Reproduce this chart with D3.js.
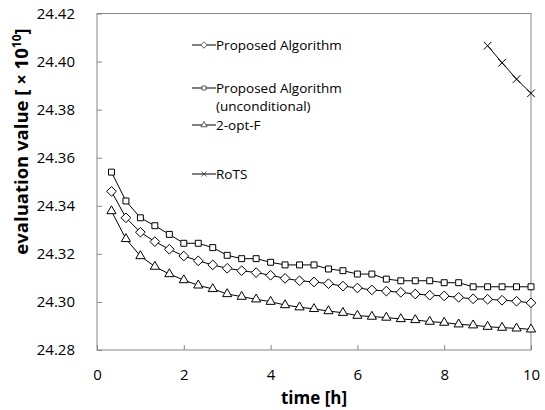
<!DOCTYPE html>
<html>
<head>
<meta charset="utf-8">
<script src="https://cdn.jsdelivr.net/npm/d3@7"></script>
<style>
  body { margin: 0; background: #fff; }
  svg { display: block; font-family: "Open Sans", Lato, sans-serif; }
</style>
</head>
<body>
<div id="chart"></div>
<script>
(function () {
  'use strict';

  /* ── Data (time in hours, values ×10^10) ── */
  var times = [1/3, 2/3, 1, 4/3, 5/3, 2, 7/3, 8/3, 3, 10/3, 11/3, 4, 13/3, 14/3, 5,
               16/3, 17/3, 6, 19/3, 20/3, 7, 22/3, 23/3, 8, 25/3, 26/3, 9, 28/3, 29/3, 10];

  var proposed = [24.3460, 24.3350, 24.3290, 24.3251, 24.3219, 24.3191, 24.3171, 24.3154,
                  24.3140, 24.3130, 24.3122, 24.3111, 24.3098, 24.3088, 24.3083, 24.3076,
                  24.3066, 24.3058, 24.3050, 24.3045, 24.3040, 24.3033, 24.3028, 24.3025,
                  24.3019, 24.3013, 24.3011, 24.3007, 24.3003, 24.2996];

  var unconditional = [24.3540, 24.3420, 24.3350, 24.3317, 24.3281, 24.3244, 24.3244, 24.3226,
                       24.3194, 24.3180, 24.3180, 24.3165, 24.3154, 24.3154, 24.3154, 24.3137,
                       24.3130, 24.3116, 24.3116, 24.3095, 24.3088, 24.3088, 24.3088, 24.3080,
                       24.3080, 24.3063, 24.3063, 24.3063, 24.3063, 24.3063];

  var twoOptF = [24.3378, 24.3262, 24.3191, 24.3147, 24.3116, 24.3091, 24.3069, 24.3054,
                 24.3033, 24.3022, 24.3011, 24.3001, 24.2987, 24.2978, 24.2971, 24.2962,
                 24.2955, 24.2943, 24.2939, 24.2935, 24.2929, 24.2925, 24.2918, 24.2914,
                 24.2907, 24.2903, 24.2897, 24.2893, 24.2890, 24.2886];

  var rotsTimes = [9, 28/3, 29/3, 10];
  var rots = [24.4066, 24.3995, 24.3927, 24.3868];

  var xTicks = [0, 2, 4, 6, 8, 10];
  var yTicks = [24.28, 24.30, 24.32, 24.34, 24.36, 24.38, 24.40, 24.42];

  var seriesNames = ['Proposed Algorithm', 'Proposed Algorithm|(unconditional)', '2-opt-F', 'RoTS'];

  /* ── Layout ── */
  var W = 545, H = 410;
  var left = 97, right = 531, top = 13.5, bottom = 350;
  var AXIS = '#868686';

  var svg = d3.select('#chart').append('svg')
    .attr('width', W).attr('height', H);

  var x = d3.scaleLinear().domain([0, 10]).range([left, right]);
  var y = d3.scaleLinear().domain([24.28, 24.42]).range([bottom, top]);

  /* Axes with inside ticks */
  var xAxis = svg.append('g')
    .attr('transform', 'translate(0,' + bottom + ')')
    .call(d3.axisBottom(x).tickValues(xTicks).tickSizeInner(-5).tickSizeOuter(0).tickPadding(19));
  var yAxis = svg.append('g')
    .attr('transform', 'translate(' + left + ',0)')
    .call(d3.axisLeft(y).tickValues(yTicks).tickSizeInner(-5).tickSizeOuter(0)
      .tickPadding(22).tickFormat(d3.format('.2f')));

  [xAxis, yAxis].forEach(function (g) {
    g.select('.domain').remove();
    g.selectAll('line').attr('stroke', AXIS);
    g.selectAll('text').attr('fill', '#000').attr('font-size', 15)
      .attr('font-family', '"Open Sans", sans-serif');
  });

  /* Frame */
  svg.append('rect')
    .attr('x', left).attr('y', top)
    .attr('width', right - left).attr('height', bottom - top)
    .attr('fill', 'none').attr('stroke', AXIS).attr('stroke-width', 1);

  /* Axis titles */
  svg.append('text')
    .attr('x', (left + right) / 2).attr('y', 404)
    .attr('text-anchor', 'middle')
    .attr('font-size', 17).attr('font-weight', 'bold')
    .text('time [h]');

  var yt = svg.append('text')
    .attr('transform', 'translate(28,141.5) rotate(-90)')
    .attr('text-anchor', 'middle')
    .attr('font-size', 18.5).attr('font-weight', 'bold');
  yt.append('tspan').text('evaluation value [ \u00d7 10');
  yt.append('tspan').attr('font-size', 12).attr('dy', -7).text('10');
  yt.append('tspan').attr('dy', 7).text(']');

  /* Marker shapes */
  var shapes = [
    { type: d3.symbolDiamond2, size: 60 },
    { type: d3.symbolSquare2, size: 45 },
    { type: d3.symbolTriangle2, size: 60 },
    { type: d3.symbolTimes, size: 40 }
  ];

  var line = d3.line()
    .x(function (d) { return x(d[0]); })
    .y(function (d) { return y(d[1]); });

  function drawSeries(ts, vals, shape) {
    var pts = ts.map(function (t, i) { return [t, vals[i]]; });
    var g = svg.append('g');
    g.append('path')
      .attr('d', line(pts))
      .attr('fill', 'none')
      .attr('stroke', '#000')
      .attr('stroke-width', 1);
    var sym = d3.symbol().type(shape.type).size(shape.size);
    g.selectAll('path.m')
      .data(pts)
      .join('path')
      .attr('class', 'm')
      .attr('transform', function (d) { return 'translate(' + x(d[0]) + ',' + y(d[1]) + ')'; })
      .attr('d', sym)
      .attr('fill', '#fff')
      .attr('stroke', '#000')
      .attr('stroke-width', 1);
  }

  drawSeries(times, unconditional, shapes[1]);
  drawSeries(times, proposed, shapes[0]);
  drawSeries(times, twoOptF, shapes[2]);
  drawSeries(rotsTimes, rots, shapes[3]);

  /* Legend */
  var legendY = [45, 88, 125, 174];
  var leg = svg.append('g');
  seriesNames.forEach(function (name, i) {
    var g = leg.append('g').attr('transform', 'translate(192,' + legendY[i] + ')');
    g.append('line')
      .attr('x1', 0).attr('x2', 24)
      .attr('stroke', '#000').attr('stroke-width', 1);
    g.append('path')
      .attr('transform', 'translate(12,0)')
      .attr('d', d3.symbol().type(shapes[i].type).size(shapes[i].size * 0.45))
      .attr('fill', '#fff').attr('stroke', '#333').attr('stroke-width', 0.8);
    var lines = name.split('|');
    lines.forEach(function (ln, j) {
      g.append('text')
        .attr('x', 24).attr('y', j * 18)
        .attr('dy', '0.35em')
        .attr('font-size', 13.5)
        .text(ln);
    });
  });
})();
</script>
</body>
</html>
